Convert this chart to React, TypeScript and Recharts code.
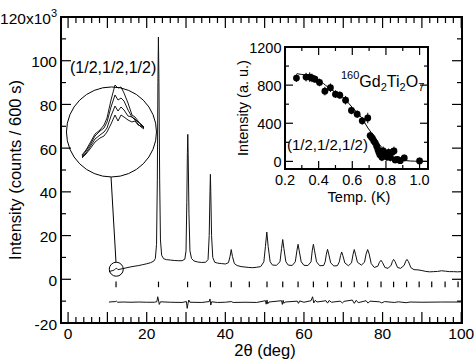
import React from 'react';
import {
  ComposedChart,
  LineChart,
  Line,
  Scatter,
  XAxis,
  YAxis,
  ReferenceDot,
  ReferenceLine,
  ReferenceArea,
  ErrorBar,
} from 'recharts';

const FONT = '"Liberation Sans", Arial, Helvetica, sans-serif';

// powder pattern: 2theta (deg), counts (x10^3)
const pattern: [number, number][] = [
  [10.4, 3.4], [10.9, 3.8], [11.4, 4.0], [11.8, 4.3], [12.1, 4.9], [12.4, 5.0], [12.7, 4.4],
  [13.2, 4.6], [14, 4.9], [15, 5.3], [16, 5.7], [17, 6.0], [18, 6.3], [19, 6.7], [20, 7.1],
  [21, 7.6], [21.8, 8.3], [22.2, 9.5], [22.5, 16], [22.7, 45], [22.85, 90], [22.98, 110.8],
  [23.1, 92], [23.3, 45], [23.5, 18], [23.8, 11], [24.3, 9.4], [25, 9.0], [26, 8.8], [27, 8.6],
  [28, 8.5], [29, 8.5], [29.7, 9.2], [30, 13], [30.2, 35], [30.35, 58], [30.45, 66.3],
  [30.55, 57], [30.75, 30], [31, 13], [31.4, 9.5], [32, 8.4], [33, 7.9], [34, 7.7], [35, 7.8],
  [35.6, 9], [35.9, 20], [36.1, 40], [36.2, 48], [36.3, 40], [36.5, 20], [36.8, 10], [37.3, 7.8],
  [38, 7.4], [39, 7.2], [40, 7.0], [40.8, 7.6], [41.2, 10.5], [41.5, 13.6], [41.8, 10.5],
  [42.3, 7.2], [43, 6.3], [44, 5.8], [45, 5.6], [46, 5.4], [47, 5.3], [48, 5.5], [49, 5.8],
  [49.8, 8], [50.2, 15], [50.55, 21.6], [50.9, 15], [51.4, 8], [52, 6.5], [53, 6.4], [53.9, 8],
  [54.3, 14], [54.6, 18.2], [54.9, 14], [55.4, 8], [56, 6.5], [57, 6.3], [57.8, 8], [58.2, 13],
  [58.5, 16], [58.8, 13], [59.3, 8], [60, 6.4], [61, 6.3], [61.8, 8], [62.1, 13], [62.4, 16],
  [62.7, 13], [63.2, 8], [64, 6.2], [65, 6.3], [65.4, 8], [65.7, 11.5], [66, 13.7], [66.3, 11.5],
  [66.8, 7.5], [67.6, 6.1], [68.5, 6.2], [69, 8], [69.3, 10.8], [69.6, 12.5], [69.9, 10.8],
  [70.4, 7.5], [71.3, 6.2], [72.1, 7.5], [72.5, 11.5], [72.8, 13.6], [73.1, 11.5], [73.6, 7.8],
  [74.6, 6.5], [75.4, 7.8], [75.8, 11.5], [76.2, 13.6], [76.6, 11.5], [77.1, 7.2], [77.9, 5.4],
  [78.8, 6], [79.2, 7.8], [79.6, 8.7], [80, 7.6], [80.6, 5.4], [81.4, 5.0], [82.2, 6.5],
  [82.5, 8.2], [82.8, 9.1], [83.2, 8], [83.8, 5.4], [84.6, 5.0], [85.5, 6.4], [85.9, 8.3],
  [86.2, 9.1], [86.6, 8], [87.2, 5.3], [88, 4.4], [89, 4.3], [90, 4.0], [91, 3.6], [92, 3.4],
  [93, 3.5], [94, 3.6], [95, 3.9], [96, 3.7], [97, 3.5], [98, 3.5], [99, 3.4], [100, 3.5],
];

// observed - calculated, shifted down
const difference: [number, number][] = [
  [10.4, -10.4], [12, -10.2], [12.3, -10.0], [12.6, -10.5], [14, -10.4], [16, -10.5], [18, -10.4],
  [20, -10.5], [22, -10.5], [22.6, -10.2], [22.8, -8.0], [23.0, -9.5], [23.2, -11.5], [23.5, -10.3],
  [26, -10.5], [29, -10.6], [30.1, -10.2], [30.3, -13.3], [30.5, -11.2], [30.7, -9.5], [31, -10.5],
  [34, -10.6], [35.9, -10.2], [36.1, -9.0], [36.3, -11.8], [36.5, -10.3], [38, -10.6], [40, -10.5],
  [41.5, -10.2], [42, -10.6], [45, -10.5], [48, -10.6], [50.2, -9.8], [50.4, -11.4], [50.6, -9.5],
  [50.8, -11.2], [51.1, -10.4], [54.3, -9.8], [54.5, -11.5], [54.7, -9.6], [54.9, -11.0],
  [55.2, -10.4], [58.3, -10.0], [58.6, -11.0], [58.9, -9.9], [60, -10.5], [61.8, -9.8],
  [62.2, -8.0], [62.5, -10.8], [62.9, -9.6], [63.3, -10.4], [65.6, -9.8], [66, -10.9], [66.4, -9.7],
  [67, -10.5], [69.2, -10.0], [69.8, -10.8], [70.2, -10.1], [72.3, -9.5], [72.8, -11], [73.3, -9.6],
  [73.8, -10.7], [75.8, -9.8], [76.3, -10.9], [76.8, -10.0], [79.2, -10.3], [79.8, -10.8],
  [80.5, -10.2], [83, -10.6], [84, -10.3], [86, -10.7], [87, -10.4], [90, -10.5], [95, -10.4],
  [100, -10.4],
];

// Bragg reflection markers
const braggPositions = [
  12.2, 23.0, 30.4, 36.2, 41.5, 46.1, 50.6, 54.6, 58.5, 62.4, 66.0, 69.5, 72.8, 76.2, 79.6, 82.8,
  86.1, 89.3, 92.5, 95.9, 99.2,
];
const braggLevel = -2.35;

const mainXTicks = Array.from({ length: 51 }, (_, i) => i * 2);
const mainYTicks = [-20, -10, 0, 10, 20, 30, 40, 50, 60, 70, 80, 90, 100, 110, 120];

// inset: (1/2,1/2,1/2) intensity vs temperature
const insetTemp = [
  0.268, 0.325, 0.347, 0.36, 0.378, 0.405, 0.437, 0.47, 0.5, 0.526, 0.56, 0.595, 0.629, 0.659,
  0.692, 0.706, 0.713, 0.72, 0.728, 0.736, 0.745, 0.752, 0.758, 0.764, 0.776, 0.784, 0.796, 0.806,
  0.816, 0.826, 0.836, 0.848, 0.855, 0.868, 0.885, 0.909, 1.0,
];
const insetInt = [
  874, 884, 884, 876, 862, 828, 737, 773, 705, 695, 642, 534, 495, 425, 455, 271, 255, 240, 215,
  195, 160, 125, 95, 70, 42, 110, 78, 45, 95, 40, 95, 110, 15, 20, 7, 36, 5,
];
const insetErr = [
  40, 45, 50, 45, 40, 40, 45, 45, 40, 40, 45, 40, 40, 40, 55, 40, 40, 40, 40, 40, 40, 40, 40, 40,
  40, 45, 40, 40, 40, 40, 45, 45, 35, 35, 35, 35, 35,
];
const fitTemp = [0.27, 0.3, 0.335, 0.4, 0.455, 0.5, 0.554, 0.6, 0.653, 0.693, 0.733, 0.76, 0.793, 0.83, 0.871, 0.92, 0.97, 1.045];
const fitInt = [920, 912, 902, 855, 779, 725, 657, 565, 463, 350, 253, 180, 113, 60, 25, 8, 2, 0];

const insetXTicks = [0.2, 0.3, 0.4, 0.5, 0.6, 0.7, 0.8, 0.9, 1.0];
const insetYTicks = [0, 200, 400, 600, 800, 1000, 1200];

// magnified magnetic peak at four temperatures (arbitrary units)
const zoomX = [82, 86, 90, 95, 100, 104, 107, 111, 115, 118, 121, 124, 128, 132, 135, 138, 141, 144];
const zoomA = [7, 12, 19, 28, 32, 37, 44, 62, 77, 74, 75, 69, 59, 47, 45, 41, 37, 34];
const zoomB = [6, 11, 17, 26, 31, 34, 40, 55, 67, 62, 64, 61, 52, 45, 43, 40, 38, 35];
const zoomC = [5, 9, 15, 23, 27, 30, 34, 46, 56, 51, 55, 52, 46, 45, 42, 38, 35, 33];
const zoomD = [4, 8, 13, 20, 24, 26, 30, 38, 47, 41, 47, 45, 42, 40, 41, 37, 36, 34];

const patternRows = pattern.map(([x, y]) => ({ x, y }));
const diffRows = difference.map(([x, y]) => ({ x, y }));
const braggRows = braggPositions.map((x) => ({ x, y: braggLevel }));
const pointRows = insetTemp.map((x, i) => ({ x, y: insetInt[i], err: insetErr[i] }));
const fitRows = fitTemp.map((x, i) => ({ x, y: fitInt[i] }));
const zoomRows = zoomX.map((x, i) => ({ x, a: zoomA[i], b: zoomB[i], c: zoomC[i], d: zoomD[i] }));

// plot box sizes (follow from chart size and margins below), used to mirror ticks
const MAIN_W = 401;
const MAIN_H = 306;
const INSET_W = 143;
const INSET_H = 122;

const TK = { stroke: '#000', strokeWidth: 1.2 };

function MainBottomTick(p: any) {
  const v = p.payload.value;
  const len = v % 10 === 0 ? 11 : 6;
  return (
    <g>
      <line x1={p.x} x2={p.x} y1={p.y} y2={p.y - len} stroke={TK.stroke} strokeWidth={TK.strokeWidth} />
      <line x1={p.x} x2={p.x} y1={p.y - MAIN_H} y2={p.y - MAIN_H + len} stroke={TK.stroke} strokeWidth={TK.strokeWidth} />
      {v % 20 === 0 && (
        <text x={p.x} y={p.y + 16} textAnchor="middle" fontSize={15.5} fontFamily={FONT} fill="#000">
          {v}
        </text>
      )}
    </g>
  );
}

function MainLeftTick(p: any) {
  const v = p.payload.value;
  const major = v % 20 === 0;
  const len = major ? 10 : 5;
  return (
    <g>
      <line x1={p.x} x2={p.x + len} y1={p.y} y2={p.y} stroke={TK.stroke} strokeWidth={TK.strokeWidth} />
      <line x1={p.x + MAIN_W} x2={p.x + MAIN_W - len} y1={p.y} y2={p.y} stroke={TK.stroke} strokeWidth={TK.strokeWidth} />
      {major && (
        <text x={p.x - 4} y={p.y + 6.5} textAnchor="end" fontSize={15.5} fontFamily={FONT} fill="#000">
          {v === 120 ? (
            <>
              120x10<tspan dy={-7} fontSize={11}>3</tspan>
            </>
          ) : (
            v
          )}
        </text>
      )}
    </g>
  );
}

function InsetBottomTick(p: any) {
  const v = p.payload.value;
  const major = Math.round(v * 10) % 2 === 0;
  const len = major ? 8 : 4;
  return (
    <g>
      <line x1={p.x} x2={p.x} y1={p.y} y2={p.y - len} stroke={TK.stroke} strokeWidth={TK.strokeWidth} />
      <line x1={p.x} x2={p.x} y1={p.y - INSET_H} y2={p.y - INSET_H + len} stroke={TK.stroke} strokeWidth={TK.strokeWidth} />
      {major && (
        <text x={p.x} y={p.y + 16} textAnchor="middle" fontSize={14.5} fontFamily={FONT} fill="#000">
          {v.toFixed(1)}
        </text>
      )}
    </g>
  );
}

function InsetLeftTick(p: any) {
  const v = p.payload.value;
  const major = v % 400 === 0;
  const len = major ? 8 : 4;
  return (
    <g>
      <line x1={p.x} x2={p.x + len} y1={p.y} y2={p.y} stroke={TK.stroke} strokeWidth={TK.strokeWidth} />
      <line x1={p.x + INSET_W} x2={p.x + INSET_W - len} y1={p.y} y2={p.y} stroke={TK.stroke} strokeWidth={TK.strokeWidth} />
      {major && (
        <text x={p.x - 3.5} y={p.y + 5.5} textAnchor="end" fontSize={14.5} fontFamily={FONT} fill="#000">
          {v}
        </text>
      )}
    </g>
  );
}

const BraggMark = (p: any) => (
  <line x1={p.cx} x2={p.cx} y1={p.cy - 2.8} y2={p.cy + 2.8} stroke="#000" strokeWidth={1.2} />
);

const InsetDot = (p: any) => <circle cx={p.cx} cy={p.cy} r={3.4} fill="#000" />;

export default function App() {
  return (
    <div style={{ position: 'absolute', left: 0, top: 0, width: 475, height: 362, background: '#fff' }}>
      <div style={{ position: 'absolute', left: 0, top: 0 }}>
        <ComposedChart width={475} height={362} margin={{ top: 17, right: 13, bottom: 14, left: 0 }}>
          <XAxis
            xAxisId="b"
            type="number"
            dataKey="x"
            domain={[-1.8, 100.2]}
            allowDataOverflow
            ticks={mainXTicks}
            interval={0}
            height={25}
            tickSize={0}
            tickMargin={0}
            tickLine={false}
            axisLine={false}
            tick={(p: any) => <MainBottomTick {...p} />}
          />
          <YAxis
            yAxisId="l"
            type="number"
            domain={[-20, 120]}
            allowDataOverflow
            ticks={mainYTicks}
            interval={0}
            width={61}
            tickSize={0}
            tickMargin={0}
            tickLine={false}
            axisLine={false}
            tick={(p: any) => <MainLeftTick {...p} />}
          />
          <ReferenceArea
            xAxisId="b"
            yAxisId="l"
            x1={-1.8}
            x2={100.2}
            y1={-20}
            y2={120}
            fill="none"
            stroke="#000"
            strokeWidth={2}
            ifOverflow="visible"
          />
          <Line
            xAxisId="b"
            yAxisId="l"
            data={patternRows}
            dataKey="y"
            type="linear"
            stroke="#111"
            strokeWidth={1}
            dot={false}
            isAnimationActive={false}
          />
          <Line
            xAxisId="b"
            yAxisId="l"
            data={diffRows}
            dataKey="y"
            type="linear"
            stroke="#111"
            strokeWidth={1}
            dot={false}
            isAnimationActive={false}
          />
          <Scatter
            xAxisId="b"
            yAxisId="l"
            data={braggRows}
            dataKey="y"
            shape={BraggMark}
            isAnimationActive={false}
          />
          <ReferenceDot xAxisId="b" yAxisId="l" x={12.26} y={4.6} r={7} fill="none" stroke="#000" strokeWidth={1} />
          <ReferenceDot xAxisId="b" yAxisId="l" x={11.04} y={67.4} r={45} fill="none" stroke="#000" strokeWidth={1} />
          <ReferenceLine
            xAxisId="b"
            yAxisId="l"
            segment={[{ x: 10.93, y: 46.8 }, { x: 12.19, y: 7.8 }]}
            stroke="#000"
            strokeWidth={1}
          />
        </ComposedChart>
      </div>

      {/* magnified magnetic peak inside the big circle */}
      <div style={{ position: 'absolute', left: 76, top: 80 }}>
        <LineChart width={72} height={82} data={zoomRows} margin={{ top: 0, right: 0, bottom: 0, left: 0 }}>
          <XAxis type="number" dataKey="x" domain={[76, 148]} hide />
          <YAxis type="number" domain={[0, 82]} hide />
          {['a', 'b', 'c', 'd'].map((k) => (
            <Line key={k} dataKey={k} type="linear" stroke="#000" strokeWidth={0.9} dot={false} isAnimationActive={false} />
          ))}
        </LineChart>
      </div>

      {/* inset */}
      <div style={{ position: 'absolute', left: 230, top: 30 }}>
        <ComposedChart width={210} height={180} margin={{ top: 17, right: 12, bottom: 11, left: 0 }}>
          <XAxis
            xAxisId="b"
            type="number"
            dataKey="x"
            domain={[0.2, 1.05]}
            allowDataOverflow
            ticks={insetXTicks}
            interval={0}
            height={30}
            tickSize={0}
            tickMargin={0}
            tickLine={false}
            axisLine={false}
            tick={(p: any) => <InsetBottomTick {...p} />}
          />
          <YAxis
            yAxisId="l"
            type="number"
            domain={[-80, 1200]}
            allowDataOverflow
            ticks={insetYTicks}
            interval={0}
            width={55}
            tickSize={0}
            tickMargin={0}
            tickLine={false}
            axisLine={false}
            tick={(p: any) => <InsetLeftTick {...p} />}
          />
          <ReferenceArea
            xAxisId="b"
            yAxisId="l"
            x1={0.2}
            x2={1.05}
            y1={-80}
            y2={1200}
            fill="none"
            stroke="#000"
            strokeWidth={2}
            ifOverflow="visible"
          />
          <Line
            xAxisId="b"
            yAxisId="l"
            data={fitRows}
            dataKey="y"
            type="monotone"
            stroke="#000"
            strokeWidth={1}
            dot={false}
            isAnimationActive={false}
          />
          <Scatter xAxisId="b" yAxisId="l" data={pointRows} dataKey="y" shape={InsetDot} isAnimationActive={false}>
            <ErrorBar dataKey="err" direction="y" width={0} stroke="#000" strokeWidth={1} />
          </Scatter>
        </ComposedChart>
      </div>

      <svg
        width={475}
        height={362}
        style={{ position: 'absolute', left: 0, top: 0, pointerEvents: 'none' }}
        fontFamily={FONT}
        fill="#000"
      >
        <text transform="translate(20.7,170) rotate(-90)" textAnchor="middle" fontSize={16.5}>
          Intensity (counts / 600 s)
        </text>
        <text x={265} y={356} textAnchor="middle" fontSize={16.5}>
          2θ (deg)
        </text>
        <text x={70} y={72.7} fontSize={16}>
          (1/2,1/2,1/2)
        </text>
        <text x={341} y={86.7} fontSize={16}>
          <tspan fontSize={11} dy={-8}>160</tspan>
          <tspan dy={8}>Gd</tspan>
          <tspan fontSize={11} dy={4}>2</tspan>
          <tspan dy={-4}>Ti</tspan>
          <tspan fontSize={11} dy={4}>2</tspan>
          <tspan dy={-4}>O</tspan>
          <tspan fontSize={11} dy={4}>7</tspan>
        </text>
        <text x={287} y={150} fontSize={15}>
          (1/2,1/2,1/2)
        </text>
        <text transform="translate(247.5,108) rotate(-90)" textAnchor="middle" fontSize={14.5}>
          Intensity (a. u.)
        </text>
        <text x={359} y={201.5} textAnchor="middle" fontSize={14.5}>
          Temp. (K)
        </text>
      </svg>
    </div>
  );
}
